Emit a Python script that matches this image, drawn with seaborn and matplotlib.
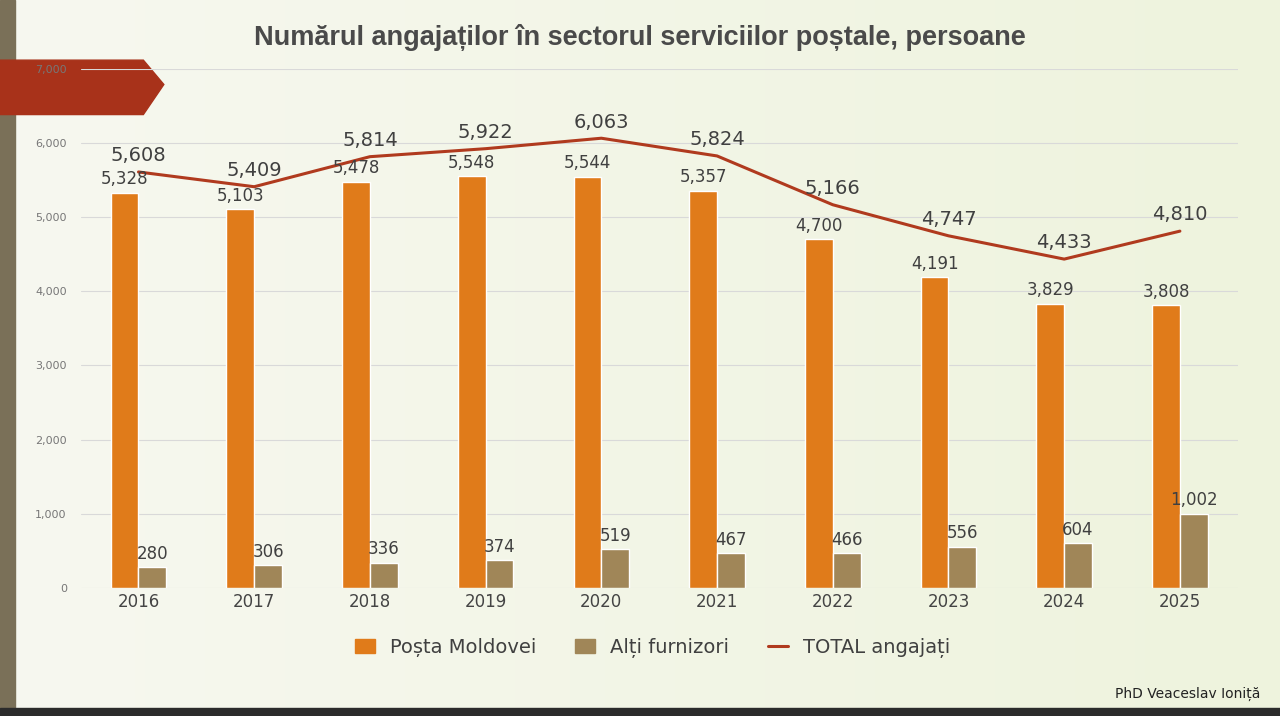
import matplotlib
matplotlib.use("Agg")
import matplotlib.pyplot as plt
import seaborn as sns
import pandas as pd
import numpy as np
from matplotlib.patches import Polygon, Rectangle, Patch
from matplotlib.lines import Line2D
from matplotlib.colors import LinearSegmentedColormap

years = ["2016","2017","2018","2019","2020","2021","2022","2023","2024","2025"]
posta = [5328,5103,5478,5548,5544,5357,4700,4191,3829,3808]
altii = [280,306,336,374,519,467,466,556,604,1002]
total = [5608,5409,5814,5922,6063,5824,5166,4747,4433,4810]

sns.set_theme(style="white")
plt.rcParams['font.family'] = ['DejaVu Sans']

df = pd.DataFrame({"An": years*2, "Val": posta+altii,
                   "Serie": ["Poșta Moldovei"]*10 + ["Alți furnizori"]*10})

fig = plt.figure(figsize=(12.8, 7.16), dpi=100)
bg = fig.add_axes([0, 0, 1, 1], zorder=-10)
grad = np.linspace(0, 1, 256)[None, :]
cm = LinearSegmentedColormap.from_list("g", ["#f7f8f0", "#eef3dd"])
bg.imshow(grad, aspect="auto", cmap=cm, extent=[0, 1, 0, 1])
bg.add_patch(Rectangle((0, 0), 0.012, 1, color="#7a7058"))
bg.add_patch(Rectangle((0, 0), 1, 0.011, color="#2b2b2b"))
bg.add_patch(Polygon([[0, 0.84], [0.112, 0.84], [0.128, 0.882], [0.112, 0.916], [0, 0.916]], color="#a8321a"))
bg.set_xlim(0, 1); bg.set_ylim(0, 1); bg.axis("off")

ax = fig.add_axes([0.063, 0.179, 0.904, 0.725])
ax.patch.set_alpha(0)
sns.barplot(data=df, x="An", y="Val", hue="Serie", ax=ax, width=0.48,
            palette=["#E07B1A", "#A08658"], saturation=1, legend=False)
xs = np.arange(len(years))
ax.plot(xs, total, color="#B03A1E", lw=2.2)
ax.set_ylim(0, 7000)
ax.set_xlim(-0.5, 9.5)
ax.set_yticks(range(0, 7001, 1000))
ax.set_yticklabels([f"{v:,}" for v in range(0, 7001, 1000)], fontsize=8, color="#777777")
ax.tick_params(axis="x", labelsize=12, colors="#444444", length=0)
ax.tick_params(axis="y", length=0, pad=10)
ax.yaxis.grid(True, color="#d9d9d9", lw=0.8)
ax.set_axisbelow(True)
for s in ax.spines.values():
    s.set_visible(False)
ax.set_xlabel(""); ax.set_ylabel("")

off = 0.12
for i in xs:
    ax.text(i - off, posta[i] + 60, f"{posta[i]:,}", ha="center", va="bottom", fontsize=12, color="#404040")
    ax.text(i + off, altii[i] + 60, f"{altii[i]:,}", ha="center", va="bottom", fontsize=12, color="#404040")
    ax.text(i, total[i] + 90, f"{total[i]:,}", ha="center", va="bottom", fontsize=14, color="#404040")

handles = [Patch(color="#E07B1A", label="Poșta Moldovei"),
           Patch(color="#A08658", label="Alți furnizori"),
           Line2D([0], [0], color="#B03A1E", lw=2.2, label="TOTAL angajați")]
fig.legend(handles=handles, loc="center", bbox_to_anchor=(0.51, 0.095), ncol=3,
           frameon=False, fontsize=14, handlelength=1.0, columnspacing=2.0, labelcolor="#404040")

fig.text(0.5, 0.948, "Numărul angajaților în sectorul serviciilor poștale, persoane",
         ha="center", va="center", fontsize=19.5, fontweight="bold", color="#4a4a4a",
         family=["Liberation Sans", "DejaVu Sans"])
fig.text(0.985, 0.031, "PhD Veaceslav Ioniță", ha="right", va="center", fontsize=10, color="#222222")

fig.savefig("out.png", dpi=100)
